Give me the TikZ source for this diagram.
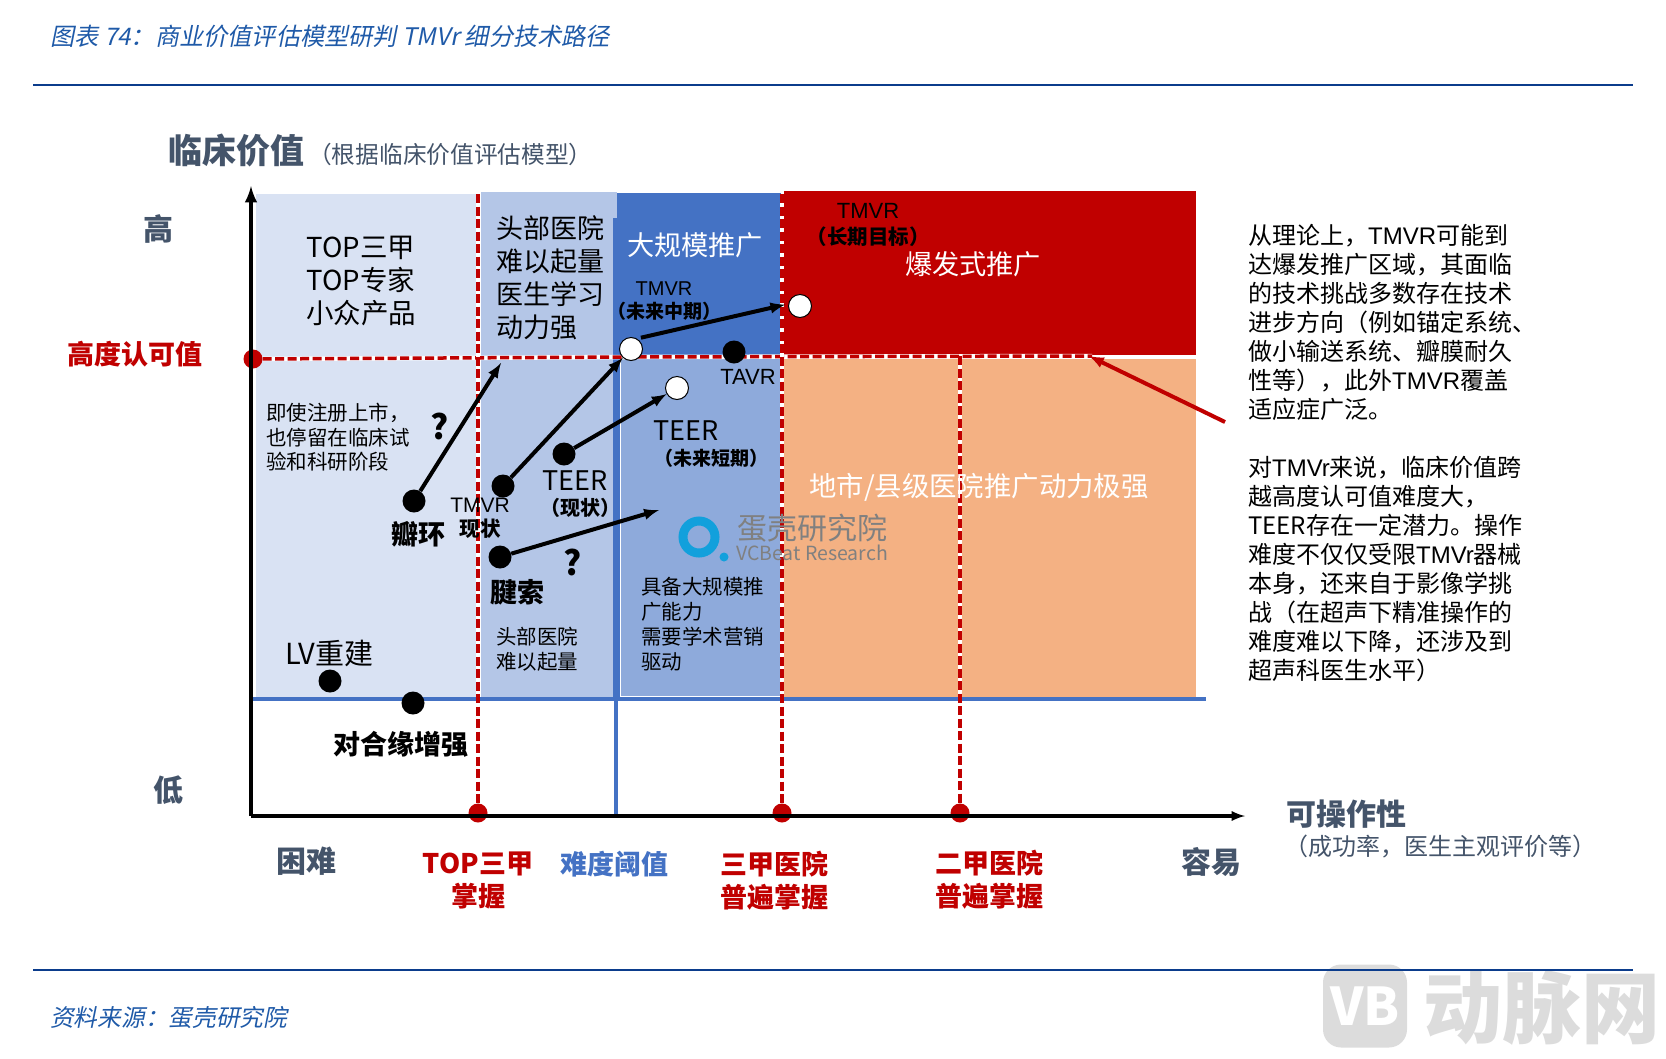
\documentclass[tikz,border=0pt]{standalone}
\usepackage{fontspec}
\setmainfont{Noto Sans CJK SC}
\newfontfamily\slantfont[FakeSlant=0.2]{Noto Sans CJK SC}
\newfontfamily\latinfont{Liberation Sans}
\usepackage{tikz}
\usetikzlibrary{positioning}
\definecolor{rulecol}{HTML}{0B3C8C}
\definecolor{titlecol}{HTML}{1F5AA8}
\definecolor{slatecol}{HTML}{44546A}
\definecolor{redcol}{HTML}{C00000}
\definecolor{zonea}{HTML}{D9E2F3}
\definecolor{zoneb}{HTML}{B4C6E7}
\definecolor{zonec}{HTML}{4472C4}
\definecolor{zoned}{HTML}{8EAADB}
\definecolor{zonee}{HTML}{F4B183}
\definecolor{logocol}{HTML}{12A0DC}
\definecolor{markcol}{HTML}{DCDCDC}
\newcommand{\fz}[2]{\fontsize{#1}{#2}\selectfont}
\newcommand{\lt}[1]{{\latinfont #1}}

\begin{document}
\begin{tikzpicture}
    [x=1pt,y=-1pt,
    lab/.style={inner sep=0pt,align=center},
    labl/.style={inner sep=0pt,align=left},
    blackdot/.style={circle,fill=black,minimum size=23pt,inner sep=0pt},
    whitedot/.style={circle,fill=white,draw=black,line width=1pt,minimum size=23pt,inner sep=0pt},
    reddot/.style={circle,fill=redcol,minimum size=19pt,inner sep=0pt},
    redgap/.style={draw=redcol,line width=3.5pt,dash pattern=on 9pt off 3.5pt,preaction={draw=white,solid,line width=4.5pt}},
    bluerule/.style={draw=zonec,line width=4pt},
    path/.style={draw=black,line width=4pt,-latex},
    rulerow/.style={draw=rulecol,line width=1.5pt}]

    \useasboundingbox (0,0) rectangle (1666,1058);

    \node[lab,rounded corners=18pt,fill=markcol,minimum width=84pt,minimum height=83pt,text=white,font=\fz{52}{52}\bfseries] (marklogo) at (1365,1006) {VB};
    \node[lab,text=markcol,font=\fz{79}{79}\bfseries] (markname) at (1542,1008) {动脉网};

    \coordinate (rulea) at (33,85);
    \coordinate (ruleb) at (1633,85);
    \coordinate (rulec) at (33,970);
    \coordinate (ruled) at (1633,970);
    \draw[rulerow] (rulea) -- (ruleb);
    \draw[rulerow] (rulec) -- (ruled);
    \node[labl,anchor=west,text=titlecol,font=\fz{24.2}{28}\slantfont] (title) at (50,36) {图表 74：商业价值评估模型研判 TMVr 细分技术路径};
    \node[labl,anchor=west,text=titlecol,font=\fz{23.7}{28}\slantfont] (source) at (50,1018) {资料来源：蛋壳研究院};

    \fill[zonea] (256,194) rectangle (476,699);
    \fill[zoneb] (481,192) rectangle (617,699);
    \fill[zonec] (617,193) rectangle (781,356);
    \fill[zonec] (613,218) rectangle (620,699);
    \fill[zoned] (621,359) rectangle (781,696);
    \fill[redcol] (784,191) rectangle (1196,355);
    \fill[zonee] (784,359) rectangle (1196,698);

    \coordinate (origin) at (251,816);
    \coordinate (ytop) at (251,186);
    \coordinate (xend) at (1245,816);
    \coordinate (floora) at (252,699);
    \coordinate (floorb) at (1206,699);
    \coordinate (gapfoot) at (616,816);
    \coordinate (gaphead) at (616,699);
    \coordinate (topa) at (478,194);
    \coordinate (topb) at (782,194);
    \coordinate (topc) at (960,356);
    \coordinate (highend) at (1092,356);

    \draw[bluerule] (floora) -- (floorb);
    \draw[bluerule] (gaphead) -- (gapfoot);
    \node[reddot] (higha) at (253,359) {};
    \node[reddot] (topfoot) at (478,813) {};
    \node[reddot] (firstfoot) at (782,813) {};
    \node[reddot] (secondfoot) at (960,813) {};
    \draw[redgap] (higha) -- (631,357) -- (highend);
    \draw[redgap] (topa) -- (topfoot);
    \draw[redgap] (topb) -- (firstfoot);
    \draw[redgap] (topc) -- (secondfoot);
    \draw[line width=4.5pt,-latex] (origin) -- (ytop);
    \draw[line width=3.5pt,-latex] (origin) -- (xend);

    \node[lab,anchor=west,text=slatecol,font=\fz{34}{40}\bfseries] (yname) at (168,151) {临床价值};
    \node[lab,anchor=west,text=slatecol,font=\fz{23.7}{28}] (ynote) at (308,154) {（根据临床价值评估模型）};
    \node[lab,text=slatecol,font=\fz{30}{34}\bfseries] (yhigh) at (158,229) {高};
    \node[lab,text=slatecol,font=\fz{30}{34}\bfseries] (ylow) at (168,790) {低};
    \node[lab,text=redcol,font=\fz{27}{32}\bfseries] (yvalue) at (135,354) {高度认可值};

    \node[lab,font=\fz{27.5}{33}] (zonetop) at (361,281) {TOP三甲\\TOP专家\\小众产品};
    \node[labl,font=\fz{27}{33}] (zonelead) at (550,278) {头部医院\\难以起量\\医生学习\\动力强};
    \node[lab,text=white,font=\fz{27.2}{32}] (zonewide) at (695,245) {大规模推广};
    \node[lab,text=white,font=\fz{27.2}{32}] (zoneburst) at (973,264) {爆发式推广};
    \node[lab,text=white,font=\fz{27.4}{32}] (zonelocal) at (979,487) {地市/县级医院推广动力极强};
    \node[labl,anchor=north west,font=\fz{20.5}{24.5}] (stuck) at (266,403) {即使注册上市，\\也停留在临床试\\验和科研阶段};
    \node[labl,anchor=north west,font=\fz{20.5}{25}] (leadnote) at (496,627) {头部医院\\难以起量};
    \node[labl,anchor=north west,font=\fz{20.5}{25}] (widenote) at (641,577) {具备大规模推\\广能力\\需要学术营销\\驱动};

    \node[lab,font=\fz{20}{24}\latinfont] (midname) at (664,289) {TMVR};
    \node[lab,font=\fz{19}{22}\bfseries] [below=6pt of midname] (midnote) {（未来中期）};
    \node[lab,font=\fz{22}{26}\latinfont] (longname) at (868,211) {TMVR};
    \node[lab,font=\fz{20.5}{24}\bfseries] [below=8pt of longname] (longnote) {（长期目标）};

    \node[blackdot] (annulus) at (414,501) {};
    \node[blackdot] (tmvrnow) at (503,486) {};
    \node[blackdot] (teernow) at (564,454) {};
    \node[blackdot] (chord) at (500,557) {};
    \node[blackdot] (lvdot) at (330,681) {};
    \node[blackdot] (edge) at (413,703) {};
    \node[blackdot] (tavr) at (734,352) {};
    \node[whitedot] (tmvrmid) at (631,349) {};
    \node[whitedot] (teernext) at (677,388) {};
    \node[whitedot] (tmvrlong) at (800,306) {};
    \coordinate (annulusend) at (501,363);
    \coordinate (chordend) at (659,510);

    \draw[path] (annulus) -- (annulusend);
    \draw[path] (tmvrnow) -- (tmvrmid);
    \draw[path] (teernow) -- (teernext);
    \draw[path] (chord) -- (chordend);
    \draw[path,shorten <=4pt,shorten >=3pt] (tmvrmid.60) -- (tmvrlong.170);

    \node[lab,font=\fz{27}{30}\bfseries] (annuluslab) at (418,534) {瓣环};
    \node[lab,font=\fz{21}{24}\latinfont] (tmvrlab) at (480,505) {TMVR};
    \node[lab,font=\fz{20.5}{24}\bfseries] (tmvrnote) at (480,529) {现状};
    \node[lab,font=\fz{27}{32}] (teerlab) at (575,481) {TEER};
    \node[lab,font=\fz{20}{24}\bfseries] (teernote) at (580,508) {（现状）};
    \node[lab,font=\fz{27}{32}] (nextlab) at (686,431) {TEER};
    \node[lab,font=\fz{19}{22}\bfseries] (nextnote) at (711,458) {（未来短期）};
    \node[lab,font=\fz{22}{26}\latinfont] (tavrlab) at (748,377) {TAVR};
    \node[lab,font=\fz{27}{32}\bfseries] (chordlab) at (517,592) {腱索};
    \node[lab,font=\fz{29}{32}] (lvlab) at (329,653) {LV重建};
    \node[lab,font=\fz{27}{32}\bfseries] (edgelab) at (401,744) {对合缘增强};
    \node[lab,font=\fz{34}{38}\bfseries] (aska) at (440,426) {?};
    \node[lab,font=\fz{34}{38}\bfseries] (askb) at (573,562) {?};

    \draw[draw=logocol,line width=9pt] (699,537) circle (16pt);
    \fill[logocol] (724,557) circle (4.5pt);
    \node[lab,text=gray,font=\fz{30}{34}] (vcname) at (812,528) {蛋壳研究院};
    \node[lab,text=gray,font=\fz{19.5}{23}] (vcsub) at (812,553) {VCBeat Research};

    \coordinate (calltail) at (1225,422);
    \coordinate (callhead) at (1089,356);
    \draw[draw=redcol,line width=4pt,-latex] (calltail) -- (callhead);
    \node[labl,anchor=north west,font=\fz{24}{29}] (notea) at (1248,224) {从理论上，\lt{TMVR}可能到\\达爆发推广区域，其面临\\的技术挑战多数存在技术\\进步方向（例如锚定系统、\\做小输送系统、瓣膜耐久\\性等），此外\lt{TMVR}覆盖\\适应症广泛。};
    \node[labl,anchor=north west,font=\fz{24}{29}] (noteb) at (1248,456) {对\lt{TMVr}来说，临床价值跨\\越高度认可值难度大，\\TEER存在一定潜力。操作\\难度不仅仅受限\lt{TMVr}器械\\本身，还来自于影像学挑\\战（在超声下精准操作的\\难度难以下降，还涉及到\\超声科医生水平）};

    \node[lab,text=slatecol,font=\fz{30}{34}\bfseries] (xhard) at (306,861) {困难};
    \node[lab,text=redcol,font=\fz{27}{33}\bfseries] (xtop) at (478,880) {TOP三甲\\掌握};
    \node[lab,text=zonec,font=\fz{27}{32}\bfseries] (xgap) at (614,864) {难度阈值};
    \node[lab,text=redcol,font=\fz{27}{33}\bfseries] (xfirst) at (774,881) {三甲医院\\普遍掌握};
    \node[lab,text=redcol,font=\fz{27}{33}\bfseries] (xsecond) at (989,880) {二甲医院\\普遍掌握};
    \node[lab,text=slatecol,font=\fz{30}{34}\bfseries] (xeasy) at (1211,862) {容易};
    \node[lab,text=slatecol,font=\fz{30}{34}\bfseries] (xname) at (1346,814) {可操作性};
    \node[lab,text=slatecol,font=\fz{24}{28}] (xnote) at (1440,846) {（成功率，医生主观评价等）};
\end{tikzpicture}
\end{document}
